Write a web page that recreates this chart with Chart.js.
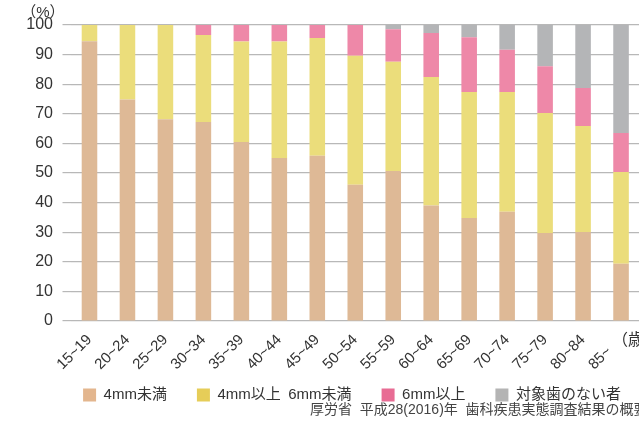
<!DOCTYPE html>
<html>
<head>
<meta charset="utf-8">
<script src="https://cdn.jsdelivr.net/npm/chart.js@4.4.1/dist/chart.umd.min.js"></script>
<style>
  html, body { margin: 0; padding: 0; background: #fff; overflow: hidden; }
  #wrap { width: 639px; height: 428px; overflow: hidden; }
  canvas { display: block; }
</style>
</head>
<body>
<div id="wrap"><canvas id="pocket" width="678" height="428" style="width:678px;height:428px"></canvas></div>
<script>
const ageGroups = ['15~19', '20~24', '25~29', '30~34', '35~39', '40~44', '45~49', '50~54', '55~59', '60~64', '65~69', '70~74', '75~79', '80~84', '85~\u2007\u2007']
const seriesNames = ['4mm未満', '4mm以上\u20026mm未満', '6mm以上', '対象歯のない者']

const under4mm = [94.5, 74.8, 68.2, 67.2, 60.5, 55.1, 55.8, 46.0, 50.7, 39.0, 34.8, 36.9, 29.7, 30.1, 19.3]
const from4to6mm = [5.5, 25.2, 31.8, 29.4, 33.9, 39.3, 39.8, 43.6, 36.9, 43.4, 42.6, 40.5, 40.6, 35.8, 31.0]
const over6mm = [0, 0, 0, 3.4, 5.6, 5.6, 4.4, 10.4, 11.0, 14.9, 18.5, 14.2, 15.8, 12.8, 13.2]
const noTeeth = [0, 0, 0, 0, 0, 0, 0, 0, 1.4, 2.7, 4.1, 8.4, 13.9, 21.3, 36.5]

const yTicks = [0, 10, 20, 30, 40, 50, 60, 70, 80, 90, 100]

const barColors = ['#DEB996', '#EBDD7B', '#EE88A8', '#B4B5B7']
const legendColors = ['#E3B68E', '#E6CD58', '#E86C94', '#B4B4B4']

const FONT = "'Liberation Sans', 'Noto Sans CJK JP', sans-serif"
const INK = '#333'

// x labels run below the (shortened) axis box, so lift the clip
const unclip = {
  id: 'unclip',
  afterLayout(chart) {
    chart.scales.x.bottom = chart.height
  }
}

// extra text: y unit, age unit, source line
const notes = {
  id: 'notes',
  afterDraw(chart) {
    const ctx = chart.ctx
    const area = chart.chartArea
    const x = chart.scales.x
    ctx.save()
    ctx.fillStyle = INK
    ctx.textBaseline = 'middle'
    ctx.font = '15px ' + FONT
    ctx.textAlign = 'right'
    ctx.fillText('（%）', area.left - 6, area.top - 12)
    ctx.textAlign = 'left'
    ctx.font = '16px ' + FONT
    ctx.fillText('（歳）', x.getPixelForValue(ageGroups.length - 1) - 9, area.bottom + 20)
    ctx.font = '14px ' + FONT
    ctx.fillStyle = '#444'
    ctx.fillText('厚労省  平成28(2016)年  歯科疾患実態調査結果の概要', 310, 410)
    ctx.restore()
  }
}

const canvas = document.getElementById('pocket')
const values = [under4mm, from4to6mm, over6mm, noTeeth]

const chart = new Chart(canvas.getContext('2d'), {
  type: 'bar',
  data: {
    labels: ageGroups.concat(['']),
    datasets: seriesNames.map((name, i) => ({
      label: name,
      data: values[i],
      backgroundColor: barColors[i],
      borderWidth: 0,
      barPercentage: 0.41,
      categoryPercentage: 1
    }))
  },
  options: {
    responsive: false,
    animation: false,
    layout: {
      padding: { top: 25, left: 26, right: 0, bottom: 15.5 }
    },
    plugins: {
      tooltip: { enabled: false },
      legend: {
        position: 'bottom',
        labels: {
          boxWidth: 13,
          boxHeight: 13,
          padding: 30,
          color: INK,
          font: { size: 15, family: FONT },
          generateLabels: (c) => seriesNames.map((name, i) => ({
            text: name,
            fillStyle: legendColors[i],
            strokeStyle: legendColors[i],
            lineWidth: 0,
            fontColor: INK,
            datasetIndex: i
          }))
        }
      }
    },
    scales: {
      x: {
        stacked: true,
        grid: { display: false },
        border: { display: false },
        afterFit: (scale) => { scale.height = 36.5 },
        ticks: {
          autoSkip: false,
          minRotation: 45,
          maxRotation: 45,
          padding: 2,
          color: INK,
          font: { size: 15, family: FONT }
        }
      },
      y: {
        stacked: true,
        min: 0,
        max: 100,
        afterFit: (scale) => { scale.width = 44.5 },
        afterBuildTicks: (scale) => { scale.ticks = yTicks.map((v) => ({ value: v })) },
        border: { display: false },
        grid: {
          color: '#b8b8b8',
          lineWidth: 1.2,
          drawTicks: true,
          tickLength: 8,
          tickColor: '#b8b8b8'
        },
        ticks: {
          padding: 9.5,
          color: INK,
          font: { size: 16, family: FONT }
        }
      }
    }
  },
  plugins: [unclip, notes]
})
</script>
</body>
</html>
